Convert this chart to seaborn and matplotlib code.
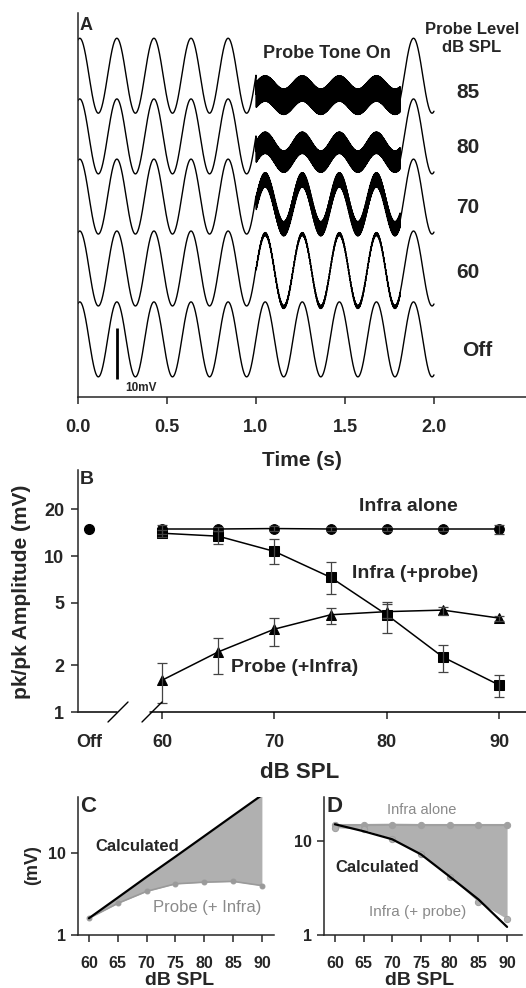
import numpy as np
import pandas as pd
import matplotlib
matplotlib.use("Agg")
import matplotlib.pyplot as plt
import seaborn as sns

# ---------------- data ----------------
trace_labels = ['85', '80', '70', '60', 'Off']
trace_baseline_mV = [63.0, 51.1, 39.3, 25.2, 11.3]
infra_pp_on_mV = [2.6, 3.7, 9.6, 14.3, 14.7]
probe_pp_mV = [5.0, 4.2, 2.8, 0.6, 0.0]
probe_dc_shift_mV = [-3.8, -3.1, -1.5, -0.4, 0.0]
infra_pp_off_mV = 14.7
infra_freq_hz = 4.8
infra_phase_s = 0.01
probe_freq_hz = 350.0
probe_on_s = 1.0
probe_off_s = 1.81
scale_bar_mV = 10
time_ticks = [0.0, 0.5, 1.0, 1.5, 2.0]

# Panel B
levels = [60, 65, 70, 75, 80, 85, 90]
off_infra = 14.9
infra_alone = [14.9, 14.9, 15.0, 14.9, 14.9, 14.9, 14.9]
infra_alone_lo = [13.8, 14.4, 14.5, 14.5, 14.5, 14.4, 13.9]
infra_alone_hi = [15.8, 15.4, 15.5, 15.3, 15.3, 15.4, 15.8]
infra_probe = [14.0, 13.4, 10.7, 7.3, 4.2, 2.25, 1.49]
infra_probe_lo = [13.3, 12.0, 8.9, 5.7, 3.2, 1.8, 1.25]
infra_probe_hi = [14.6, 14.5, 12.9, 9.1, 5.1, 2.7, 1.73]
probe_infra = [1.6, 2.43, 3.4, 4.2, 4.4, 4.5, 4.0]
probe_infra_lo = [1.14, 1.75, 2.65, 3.65, 4.0, 4.2, 3.85]
probe_infra_hi = [2.06, 2.98, 4.0, 4.65, 4.9, 4.7, 4.15]
b_yticks = [1, 2, 5, 10, 20]

# Panel C / D
calc_probe = [1.6, 2.85, 5.1, 9.0, 16.0, 28.5, 50.6]
calc_infra = [15.2, 12.8, 10.5, 7.25, 4.2, 2.4, 1.22]
cd_xticks = [60, 65, 70, 75, 80, 85, 90]

# ---------------- style ----------------
sns.set_style("ticks")
plt.rcParams['font.family'] = ['Liberation Sans', 'DejaVu Sans']
plt.rcParams['font.weight'] = 'bold'
plt.rcParams['axes.linewidth'] = 1.1
plt.rcParams['xtick.major.width'] = 1.1
plt.rcParams['ytick.major.width'] = 1.1

W, H = 526, 988
fig = plt.figure(figsize=(W / 100, H / 100), dpi=100)


def rect(l, t, r, b):
    return [l / W, 1 - b / H, (r - l) / W, (b - t) / H]


def ft(x, y, s, size, **kw):
    kw.setdefault('ha', 'center')
    kw.setdefault('va', 'center')
    kw.setdefault('fontweight', 'bold')
    fig.text(x / W, 1 - y / H, s, fontsize=size, **kw)


GRAY_TXT = '#8a8a8a'
SHADE = '#b0b0b0'

# ---------------- Panel A ----------------
axA = fig.add_axes(rect(78, 13, 526, 397))
t = np.linspace(0, 2.0, 40000)
rows = []
for i, lab in enumerate(trace_labels):
    ph = np.cos(2 * np.pi * infra_freq_hz * (t - infra_phase_s))
    y = trace_baseline_mV[i] + infra_pp_off_mV / 2 * ph
    on = (t >= probe_on_s) & (t <= probe_off_s)
    y_on = (trace_baseline_mV[i] + probe_dc_shift_mV[i]
            + infra_pp_on_mV[i] / 2 * ph
            + probe_pp_mV[i] / 2 * np.sin(2 * np.pi * probe_freq_hz * t))
    y = np.where(on, y_on, y)
    rows.append(pd.DataFrame({'t': t, 'v': y, 'trace': lab}))
dfA = pd.concat(rows, ignore_index=True)
sns.lineplot(data=dfA, x='t', y='v', units='trace', estimator=None, sort=False,
             color='black', linewidth=1.0, ax=axA)
axA.vlines(0.22, 3.5, 3.5 + scale_bar_mV, color='black', linewidth=2.0)
axA.set_xlim(0, 2.517)
axA.set_ylim(0, 75.3)
axA.set_xticks(time_ticks)
axA.set_xticklabels([f'{v:.1f}' for v in time_ticks], fontsize=13, fontweight='bold')
axA.set_yticks([])
axA.set_xlabel('')
axA.set_ylabel('')
axA.tick_params(axis='x', direction='out', length=5, pad=11)
for s in ['top', 'right']:
    axA.spines[s].set_visible(False)

ft(80, 25, 'A', 13, ha='left')
ft(327, 54, 'Probe Tone On', 13)
ft(472, 30, 'Probe Level', 12)
ft(472, 48, 'dB SPL', 12)
for lab, yy in zip(trace_labels, [92, 147, 207, 272, 350]):
    ft(468 if lab != 'Off' else 477, yy, lab, 15)
ft(141, 388, '10mV', 8.5)
ft(302, 460, 'Time (s)', 15)

# ---------------- Panel B ----------------
axB = fig.add_axes(rect(78, 470, 526, 712))
axB.set_yscale('log')
mk = dict(color='black', linewidth=1.1, markeredgecolor='black', ax=axB)
sns.lineplot(x=levels, y=infra_alone, marker='o', markersize=7.0, **mk)
sns.lineplot(x=levels, y=infra_probe, marker='s', markersize=6.5, **mk)
sns.lineplot(x=levels, y=probe_infra, marker='^', markersize=7.5, **mk)
eb = dict(fmt='none', ecolor='#444444', elinewidth=0.9, capsize=3.5, capthick=0.9)
for vals, lo, hi in [(infra_alone, infra_alone_lo, infra_alone_hi),
                     (infra_probe, infra_probe_lo, infra_probe_hi),
                     (probe_infra, probe_infra_lo, probe_infra_hi)]:
    v = np.array(vals)
    axB.errorbar(levels, v, yerr=[v - np.array(lo), np.array(hi) - v], **eb)
axB.plot([53.5], [off_infra], marker='o', markersize=7.0, color='black', linestyle='none')
axB.set_xlim(52.5, 92.4)
axB.set_ylim(1, 35.6)
axB.set_yticks(b_yticks)
axB.set_yticklabels([str(v) for v in b_yticks], fontsize=13, fontweight='bold')
axB.minorticks_off()
axB.set_xticks([53.5, 60, 70, 80, 90])
axB.set_xticklabels(['Off', '60', '70', '80', '90'], fontsize=13, fontweight='bold')
axB.xaxis.get_major_ticks()[0].tick1line.set_visible(False)
axB.tick_params(axis='both', direction='out', length=5)
axB.tick_params(axis='x', pad=11)
axB.tick_params(axis='y', pad=5)
for s in ['top', 'right', 'bottom']:
    axB.spines[s].set_visible(False)
# broken bottom axis
axB.plot([0, (117 - 78) / 448], [0, 0], color='black', lw=1.1, transform=axB.transAxes, clip_on=False)
axB.plot([(150 - 78) / 448, 1], [0, 0], color='black', lw=1.1, transform=axB.transAxes, clip_on=False)
for x0, x1 in [(108, 128), (142, 162)]:
    axB.plot([(x0 - 78) / 448, (x1 - 78) / 448], [-10 / 242, 10 / 242], color='black',
             lw=1.0, transform=axB.transAxes, clip_on=False)
axB.set_xlabel('')
axB.set_ylabel('')

ft(80, 480, 'B', 14, ha='left')
ft(22, 592, 'pk/pk Amplitude (mV)', 15, rotation=90)
ft(408, 506, 'Infra alone', 14)
ft(415, 573, 'Infra (+probe)', 14)
ft(295, 667, 'Probe (+Infra)', 14)
ft(300, 772, 'dB SPL', 16)

# ---------------- Panel C ----------------
axC = fig.add_axes(rect(78, 797, 274, 935))
axC.set_yscale('log')
axC.fill_between(levels, probe_infra, calc_probe, color=SHADE, linewidth=0)
sns.lineplot(x=levels, y=probe_infra, color='#9a9a9a', linewidth=1.2, marker='o',
             markersize=3.5, markeredgecolor='#9a9a9a', ax=axC)
sns.lineplot(x=levels, y=calc_probe, color='black', linewidth=1.6, ax=axC)
axC.set_xlim(58.1, 92.1)
axC.set_ylim(1, 48)

# ---------------- Panel D ----------------
axD = fig.add_axes(rect(324, 797, 522, 935))
axD.set_yscale('log')
axD.fill_between(levels, infra_probe, infra_alone, color=SHADE, linewidth=0)
sns.lineplot(x=levels, y=infra_alone, color='#a0a0a0', linewidth=1.6, marker='o',
             markersize=4.5, markeredgecolor='#a0a0a0', ax=axD)
sns.lineplot(x=levels, y=infra_probe, color=SHADE, linewidth=0, marker='o',
             markersize=4.5, markeredgecolor='#a0a0a0', ax=axD)
sns.lineplot(x=levels, y=calc_infra, color='black', linewidth=1.6, ax=axD)
axD.set_xlim(58.1, 92.6)
axD.set_ylim(1, 29.7)

for ax in (axC, axD):
    ax.set_xticks(cd_xticks)
    ax.set_xticklabels([str(v) for v in cd_xticks], fontsize=11.5, fontweight='bold')
    ax.set_yticks([1, 10])
    ax.set_yticklabels(['1', '10'], fontsize=11.5, fontweight='bold')
    ax.minorticks_off()
    ax.tick_params(axis='both', direction='out', length=5)
    ax.tick_params(axis='x', pad=10)
    ax.tick_params(axis='y', pad=4)
    for s in ['top', 'right']:
        ax.spines[s].set_visible(False)
    ax.set_xlabel('')
    ax.set_ylabel('')

ft(80, 806, 'C', 16, ha='left')
ft(33, 865, '(mV)', 13, rotation=90)
ft(137, 846, 'Calculated', 12)
ft(207, 907, 'Probe (+ Infra)', 12, color=GRAY_TXT, fontweight='normal')
ft(180, 980, 'dB SPL', 14)

ft(327, 806, 'D', 16, ha='left')
ft(422, 810, 'Infra alone', 10.5, color=GRAY_TXT, fontweight='normal')
ft(377, 867, 'Calculated', 12)
ft(418, 912, 'Infra (+ probe)', 11, color=GRAY_TXT, fontweight='normal')
ft(420, 980, 'dB SPL', 14)

fig.savefig('out.png', dpi=100)
